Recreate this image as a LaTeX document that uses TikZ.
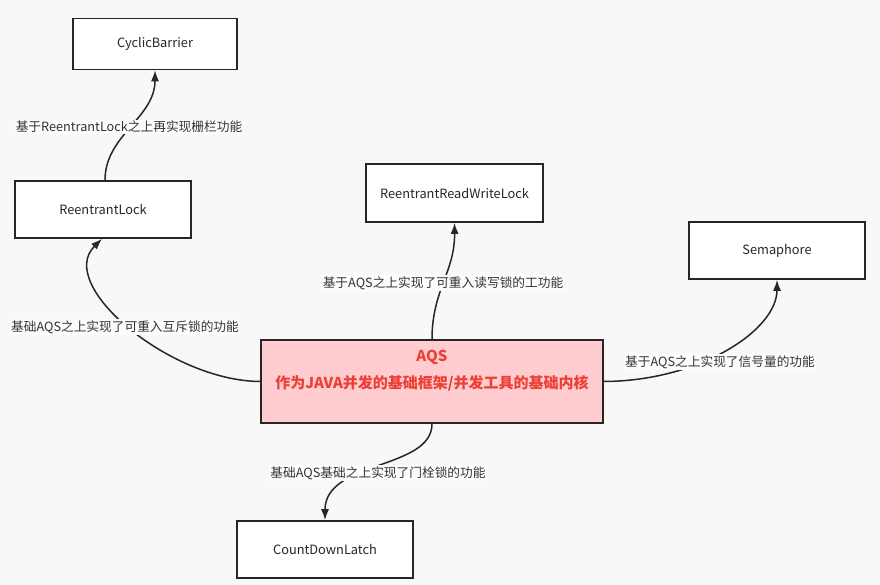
\documentclass[tikz,border=0pt]{standalone}
\usepackage{fontspec}
\newfontfamily\cjk{Noto Sans CJK SC}
\usetikzlibrary{arrows.meta}
\definecolor{bgc}{HTML}{F8F8F8}
\definecolor{edgec}{HTML}{262626}
\definecolor{aqsred}{HTML}{EC3F35}
\definecolor{aqspink}{HTML}{FFCCCF}
\tikzset{
  box/.style={draw=edgec, line width=1.6pt, fill=white, inner sep=0pt, font=\cjk\fontsize{12.8}{15}\selectfont, text=black!85},
  conn/.style={draw=edgec, line width=1.5pt, -{Latex[length=11pt,width=8pt]}},
  lbl/.style={fill=white!60!bgc, inner sep=1pt, font=\cjk\fontsize{12.7}{14}\selectfont, text=black!80}
}
\begin{document}
\begin{tikzpicture}[x=1pt,y=-1pt]
\fill[bgc] (0,0) rectangle (880,585);
\useasboundingbox (0,0) rectangle (880,585);
\node[box, minimum width=164pt, minimum height=51pt] (cb) at (155,44) {CyclicBarrier};
\node[box, minimum width=176pt, minimum height=57pt] (rl) at (103,209.5) {ReentrantLock};
\node[box, minimum width=177pt, minimum height=58pt] (rrwl) at (454.5,193) {ReentrantReadWriteLock};
\node[box, minimum width=176pt, minimum height=57pt] (sem) at (777,250.5) {Semaphore};
\node[box, fill=aqspink, minimum width=342pt, minimum height=83pt] (aqs) at (432,381.5) {};
\node[font=\cjk\bfseries\fontsize{15}{17}\selectfont, text=aqsred] (aqst) at (432,357) {AQS};
\node[font=\cjk\bfseries\fontsize{15}{17}\selectfont, text=aqsred] (aqsd) at (432,383) {作为JAVA并发的基础框架/并发工具的基础内核};
\node[box, minimum width=176pt, minimum height=57pt] (cdl) at (325,549.5) {CountDownLatch};
% connectors
\draw[conn] (rl.north -| 105,0) .. controls (105,135) and (155,118) .. (cb.south);
\draw[conn] (aqs.west) .. controls (170,381) and (55,285) .. (rl.south -| 102,0);
\draw[conn] (aqs.north) .. controls (432,290) and (455,272) .. (rrwl.south);
\draw[conn] (aqs.east) .. controls (700,381) and (777,330) .. (sem.south);
\draw[conn] (aqs.south) .. controls (432,470) and (325,460) .. (cdl.north);
% labels
\node[lbl] (l1) at (129,127) {基于ReentrantLock之上再实现栅栏功能};
\node[lbl] (l2) at (125,327) {基础AQS之上实现了可重入互斥锁的功能};
\node[lbl] (l3) at (443,283) {基于AQS之上实现了可重入读写锁的工功能};
\node[lbl] (l4) at (720,362) {基于AQS之上实现了信号量的功能};
\node[lbl] (l5) at (378,473) {基础AQS基础之上实现了门栓锁的功能};
\end{tikzpicture}
\end{document}
